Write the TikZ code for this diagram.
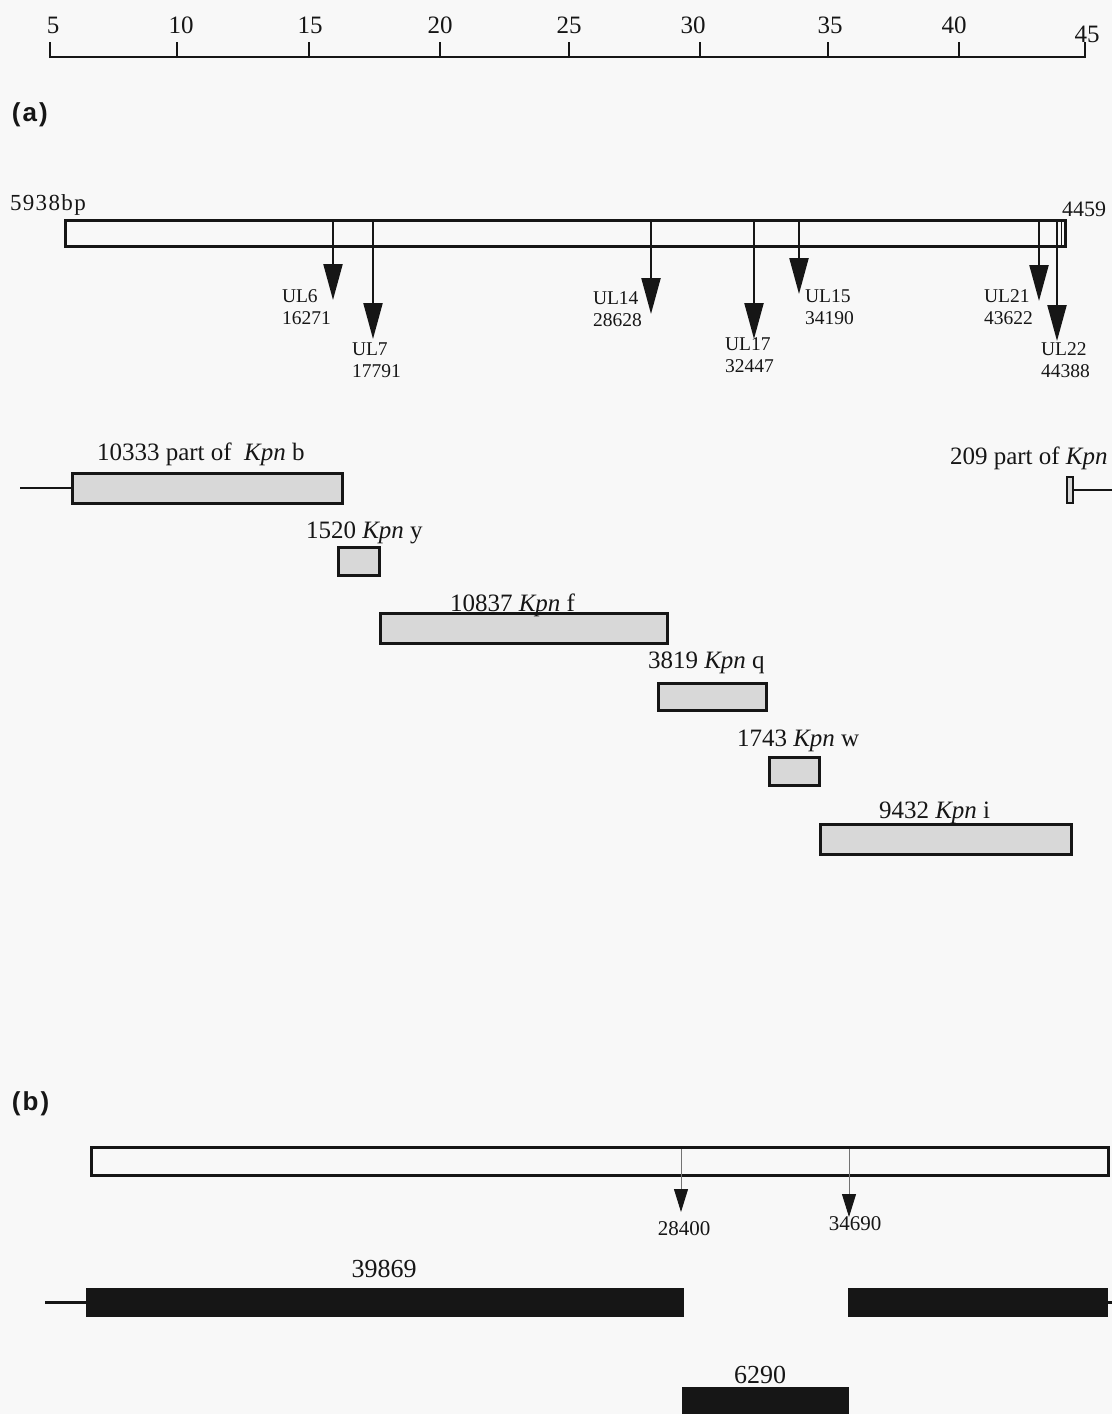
\documentclass[tikz,border=0pt]{standalone}
\usepackage{fontspec}
\setmainfont{Liberation Serif}
\setsansfont{Liberation Sans}
\usetikzlibrary{arrows.meta}
\definecolor{bg}{RGB}{248,248,248}
\definecolor{fragfill}{RGB}{216,216,216}
\definecolor{ink}{RGB}{22,22,22}
\begin{document}
\begin{tikzpicture}[x=1pt,y=-1pt,
  every node/.style={inner sep=0pt, outer sep=0pt, text=ink},
  scalelbl/.style={font=\fontsize{25}{28}\selectfont, anchor=base},
  biglbl/.style={font=\fontsize{25}{28}\selectfont, anchor=base west},
  ullbl/.style={font=\fontsize{19.5}{22}\selectfont, align=left, anchor=north west},
  blbl/.style={font=\fontsize{21}{24}\selectfont, anchor=base},
  solidlbl/.style={font=\fontsize{26}{30}\selectfont, anchor=base},
  panel/.style={font=\sffamily\bfseries\fontsize{26}{30}\selectfont, anchor=north west},
  genome/.style={draw=ink, line width=3pt, fill=bg, anchor=north west},
  frag/.style={draw=ink, line width=3pt, fill=fragfill, anchor=north west},
  solidfrag/.style={draw=none, fill=ink, anchor=north west},
  site/.style={draw=ink, line width=2.2pt, -{Triangle[width=19pt,length=36pt]}},
  thinsite/.style={draw=ink!60, line width=0.9pt, -{Triangle[width=14pt,length=23pt,color=ink,fill=ink]}},
  lead/.style={draw=ink, line width=2pt},
]
\fill[bg] (0,0) rectangle (1112,1414);
\useasboundingbox (0,0) rectangle (1112,1414);
\clip (0,0) rectangle (1112,1414);

% ---- scale ----
\draw[line width=2.6pt, ink] (49.6,57) -- (1085,57);
\foreach \x/\lx/\t in {49.6/53/5,177.3/181/10,308.5/310/15,439.7/440/20,568.8/569/25,700/693/30,828.4/830/35,958.9/954/40}{
  \draw[line width=2pt, ink] (\x,58) -- (\x,42);
  \node[scalelbl] (sc\t) at (\lx,33) {\t};
}
\draw[line width=2pt, ink] (1085,58) -- (1085,42);
\node[scalelbl] (sc45) at (1087,42) {45};

% ---- panel (a) ----
\node[panel] (pa) at (12,103) {(\hspace{2pt}a\hspace{2pt})};

\node[genome, minimum width=1000pt, minimum height=26pt] (ga) at (65,220) {};
\draw[ink, line width=1pt] (1061,221.5) -- (1061,244.5);
\node[font=\fontsize{23}{26}\selectfont\addfontfeatures{LetterSpace=6}, anchor=base west] (ga-start) at (10,210) {5938bp};
\node[font=\fontsize{22}{24}\selectfont, anchor=base west] (ga-end) at (1062,216) {4459};

% site markers
\foreach \n/\x/\y in {6/333/300, 7/373/339, 14/651/314, 17/754/339, 15/799/294, 21/1039/301, 22/1057/341}{
  \coordinate (s\n) at (\x,221);
  \coordinate (t\n) at (\x,\y);
  \draw[site] (s\n) -- (t\n);
}
\node[ullbl] (ul6)  at (282,290)  {UL6\\16271};
\node[ullbl] (ul7)  at (352,343)  {UL7\\17791};
\node[ullbl] (ul14) at (593,292)  {UL14\\28628};
\node[ullbl] (ul17) at (725,338)  {UL17\\32447};
\node[ullbl] (ul15) at (805,290)  {UL15\\34190};
\node[ullbl] (ul21) at (984,290)  {UL21\\43622};
\node[ullbl] (ul22) at (1041,343) {UL22\\44388};

% helper x positions for free lead ends
\coordinate (xl1) at (20,0);
\coordinate (xr) at (1112,0);
\coordinate (xl2) at (45,0);

% Kpn fragments
\node[frag, minimum width=270pt, minimum height=30pt] (kb) at (72,473) {};
\coordinate (kbl) at (kb.west -| xl1);
\draw[lead] (kbl) -- (kb.west);
\node[biglbl] (kbt) at (97,460) {10333 part of\ \ \textit{Kpn} b};

\node[frag, minimum width=6pt, minimum height=26pt, line width=2pt] (ka) at (1067,477) {};
\coordinate (kar) at (ka.east -| xr);
\draw[lead] (ka.east) -- (kar);
\node[biglbl] (kat) at (950,464) {209 part of \textit{Kpn}};

\node[frag, minimum width=41pt, minimum height=28pt] (ky) at (338,547) {};
\node[biglbl] (kyt) at (306,538) {1520 \textit{Kpn} y};

\node[frag, minimum width=287pt, minimum height=30pt] (kf) at (380,613) {};
\node[biglbl] (kft) at (450,611) {10837 \textit{Kpn} f};

\node[frag, minimum width=108pt, minimum height=27pt] (kq) at (658,683) {};
\node[biglbl] (kqt) at (648,668) {3819 \textit{Kpn} q};

\node[frag, minimum width=50pt, minimum height=28pt] (kw) at (769,757) {};
\node[biglbl] (kwt) at (737,746) {1743 \textit{Kpn} w};

\node[frag, minimum width=251pt, minimum height=30pt] (ki) at (820,824) {};
\node[biglbl] (kit) at (879,818) {9432 \textit{Kpn} i};

% ---- panel (b) ----
\node[panel] (pb) at (12,1092) {(\hspace{2pt}b\hspace{2pt})};

\node[genome, minimum width=1017pt, minimum height=28pt] (gb) at (91,1147) {};
\coordinate (sb1) at (681,1149);
\coordinate (tb1) at (681,1212);
\coordinate (sb2) at (849,1149);
\coordinate (tb2) at (849,1217);
\draw[thinsite] (sb1) -- (tb1);
\draw[thinsite] (sb2) -- (tb2);
\node[blbl] (b1) at (684,1235) {28400};
\node[blbl] (b2) at (855,1230) {34690};

\node[solidfrag, minimum width=598pt, minimum height=29pt] (f1) at (86,1288) {};
\coordinate (f1l) at (f1.west -| xl2);
\draw[lead, line width=2.4pt] (f1l) -- (f1.west);
\node[solidlbl] (f1t) at (384,1277) {39869};

\node[solidfrag, minimum width=260pt, minimum height=29pt] (f2) at (848,1288) {};
\coordinate (f2r) at (f2.east -| xr);
\draw[lead, line width=2.4pt] (f2.east) -- (f2r);

\node[solidfrag, minimum width=167pt, minimum height=40pt] (f3) at (682,1387) {};
\node[solidlbl] (f3t) at (760,1383) {6290};
\end{tikzpicture}
\end{document}
